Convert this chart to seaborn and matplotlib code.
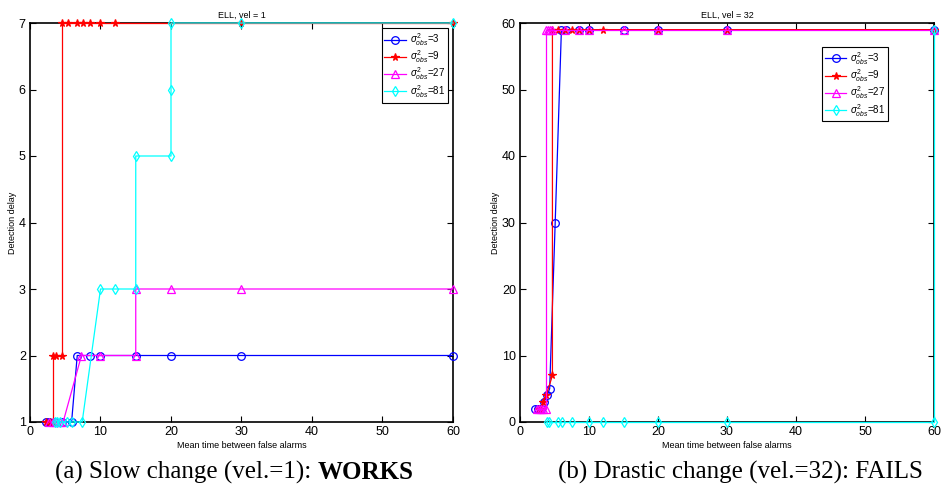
import matplotlib
matplotlib.use("Agg")
import matplotlib.pyplot as plt
import seaborn as sns

# ---------------- data ----------------
series_labels = [r"$\sigma^2_{obs}$=3", r"$\sigma^2_{obs}$=9",
                 r"$\sigma^2_{obs}$=27", r"$\sigma^2_{obs}$=81"]

# (a) vel = 1
l_x_obs3 = [2.2, 2.7, 3.5, 4.5, 5.9, 6.7, 8.5, 10, 15, 20, 30, 60]
l_y_obs3 = [1, 1, 1, 1, 1, 2, 2, 2, 2, 2, 2, 2]
l_x_obs9 = [2.3, 2.8, 3.2, 3.2, 3.7, 4.6, 4.6, 5.4, 6.6, 7.5, 8.5, 10, 12, 30, 60]
l_y_obs9 = [1, 1, 1, 2, 2, 2, 7, 7, 7, 7, 7, 7, 7, 7, 7]
l_x_obs27 = [2.7, 3.2, 3.7, 4.2, 4.7, 7.3, 10, 15, 15, 20, 30, 60]
l_y_obs27 = [1, 1, 1, 1, 1, 2, 2, 2, 3, 3, 3, 3]
l_x_obs81 = [3.5, 3.9, 4.3, 5.3, 5.9, 7.4, 10, 12, 15, 15, 20, 20, 20, 30, 60]
l_y_obs81 = [1, 1, 1, 1, 1, 1, 3, 3, 3, 5, 5, 6, 7, 7, 7]

# (b) vel = 32
r_x_obs3 = [2.2, 2.6, 3.0, 3.5, 3.9, 4.3, 5.1, 6.0, 6.7, 8.6, 10, 15, 20, 30, 60]
r_y_obs3 = [2, 2, 2, 3, 4, 5, 30, 59, 59, 59, 59, 59, 59, 59, 59]
r_x_obs9 = [2.8, 3.1, 3.4, 3.8, 4.7, 4.7, 5.5, 6.5, 7.5, 8.5, 10, 12, 20, 30, 60]
r_y_obs9 = [2, 2, 3, 4, 7, 59, 59, 59, 59, 59, 59, 59, 59, 59, 59]
r_x_obs27 = [2.5, 2.8, 3.1, 3.4, 3.7, 3.7, 4.0, 4.3, 4.7, 6.5, 8.5, 10, 15, 20, 30, 60]
r_y_obs27 = [2, 2, 2, 2, 2, 59, 59, 59, 59, 59, 59, 59, 59, 59, 59, 59]
r_x_obs81 = [3.9, 4.2, 5.5, 6.1, 7.6, 10, 12, 15, 20, 30, 60, 60]
r_y_obs81 = [0, 0, 0, 0, 0, 0, 0, 0, 0, 0, 0, 59]

x_ticks = [0, 10, 20, 30, 40, 50, 60]
l_y_ticks = [1, 2, 3, 4, 5, 6, 7]
r_y_ticks = [0, 10, 20, 30, 40, 50, 60]

# ---------------- style ----------------
colors = ["#0000ff", "#ff0000", "#ff00ff", "#00ffff"]
markers = ["o", "*", "^", "d"]
msizes = [5.5, 5.5, 5.5, 5.5]
filled = [False, True, False, False]

plt.rcParams["font.family"] = ["Liberation Sans", "DejaVu Sans"]
plt.rcParams["mathtext.fontset"] = "custom"
plt.rcParams["mathtext.rm"] = "Liberation Sans"
plt.rcParams["mathtext.it"] = "Liberation Sans:italic"

fig = plt.figure(figsize=(9.43, 4.96), dpi=100)
ax1 = fig.add_axes([30 / 943, 74 / 496, 423 / 943, 399 / 496])
ax2 = fig.add_axes([520 / 943, 74 / 496, 414 / 943, 399 / 496])


def draw(ax, xs, ys, title, yticks, ylim, leg_anchor):
    for i, (x, y) in enumerate(zip(xs, ys)):
        sns.lineplot(x=x, y=y, estimator=None, sort=False, ax=ax,
                     color=colors[i], marker=markers[i],
                     markersize=msizes[i],
                     markerfacecolor=colors[i] if filled[i] else "none",
                     markeredgecolor=colors[i], markeredgewidth=0.9,
                     linewidth=0.9, clip_on=False, zorder=3 + i)
    ax.set_xlim(0, 60)
    ax.set_ylim(*ylim)
    ax.set_xticks(x_ticks)
    ax.set_yticks(yticks)
    ax.tick_params(direction="in", top=True, right=True, length=4,
                   width=0.8, labelsize=9, pad=3, color="black")
    for s in ax.spines.values():
        s.set_linewidth(1.2)
        s.set_color("black")
    ax.set_title(title, fontsize=6.5, pad=4)
    ax.set_xlabel("Mean time between false alarms", fontsize=6.5, labelpad=2)
    ax.set_ylabel("Detection delay", fontsize=6.5, labelpad=1)
    leg = ax.legend(handles=ax.lines[:4], labels=series_labels,
                    loc="upper right", bbox_to_anchor=leg_anchor,
                    bbox_transform=ax.transAxes, borderaxespad=0,
                    fontsize=7, frameon=True, fancybox=False,
                    edgecolor="black", framealpha=1, handlelength=2.2,
                    handletextpad=0.4, labelspacing=0.05, borderpad=0.3)
    leg.get_frame().set_linewidth(0.8)


draw(ax1, [l_x_obs3, l_x_obs9, l_x_obs27, l_x_obs81],
     [l_y_obs3, l_y_obs9, l_y_obs27, l_y_obs81],
     "ELL, vel = 1", l_y_ticks, (1, 7), (0.988, 0.987))
draw(ax2, [r_x_obs3, r_x_obs9, r_x_obs27, r_x_obs81],
     [r_y_obs3, r_y_obs9, r_y_obs27, r_y_obs81],
     "ELL, vel = 32", r_y_ticks, (0, 60), (0.89, 0.94))

# captions
serif = ["Liberation Serif", "DejaVu Serif"]
fig.canvas.draw()
renderer = fig.canvas.get_renderer()


def caption(x_center, normal, bold):
    t1 = fig.text(0, 0.035, normal, fontsize=18, family=serif, va="baseline")
    t2 = fig.text(0, 0.035, bold, fontsize=18, family=serif,
                  fontweight="bold", va="baseline")
    w1 = t1.get_window_extent(renderer).width / fig.bbox.width
    w2 = t2.get_window_extent(renderer).width / fig.bbox.width if bold else 0
    x0 = x_center - (w1 + w2) / 2
    t1.set_x(x0)
    t2.set_x(x0 + w1)


caption(234 / 943, "(a) Slow change (vel.=1): ", "WORKS")
caption(740 / 943, "(b) Drastic change (vel.=32): FAILS", "")

fig.savefig("out.png", dpi=100)
